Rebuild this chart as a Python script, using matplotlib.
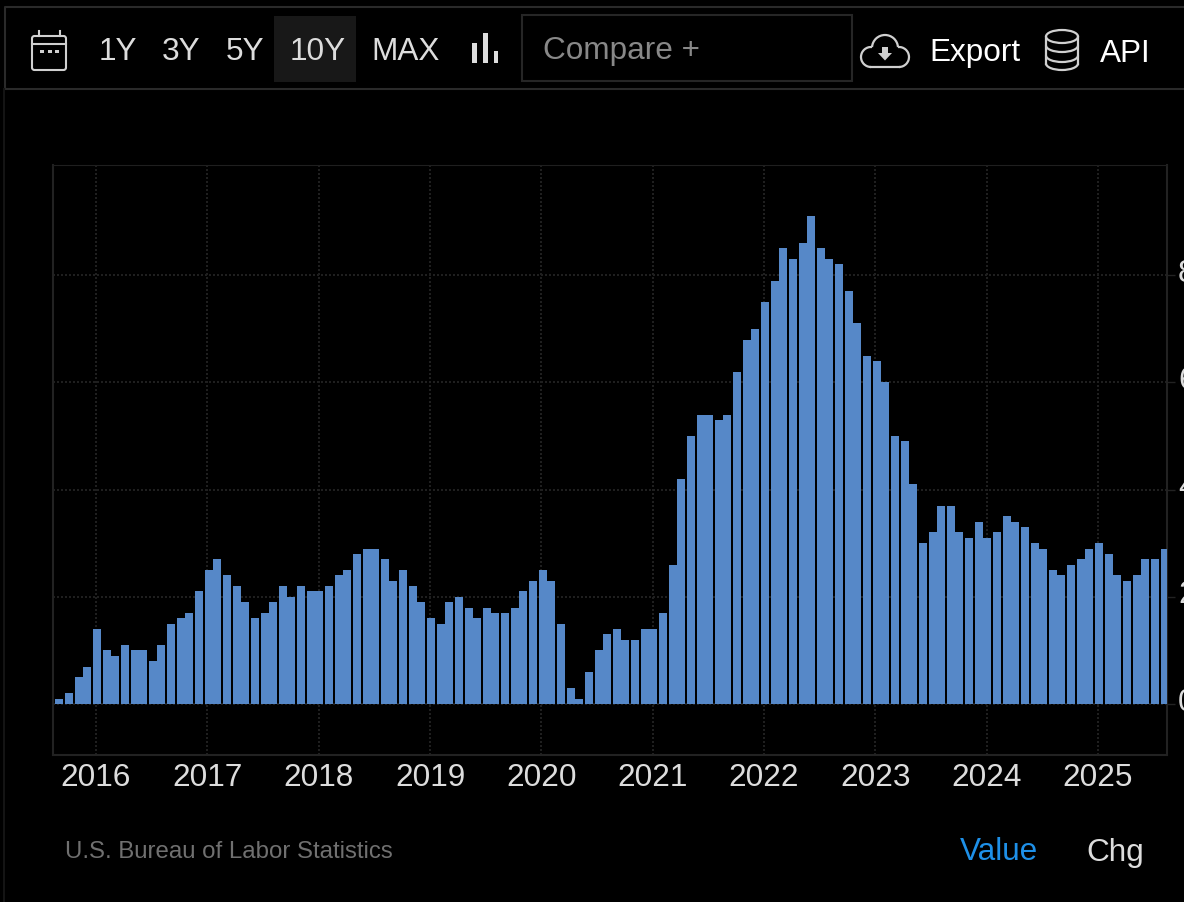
import matplotlib
matplotlib.use('Agg')
import matplotlib.pyplot as plt
from matplotlib.patches import Rectangle, FancyBboxPatch, Ellipse, Arc, Polygon
from matplotlib.transforms import ScaledTranslation

plt.rcParams['font.family'] = ['Liberation Sans', 'DejaVu Sans']

# monthly inflation rate, first bar is Sep 2015
values = [0.1, 0.2, 0.5, 0.7,
          1.4, 1.0, 0.9, 1.1, 1.0, 1.0, 0.8, 1.1, 1.5, 1.6, 1.7, 2.1,
          2.5, 2.7, 2.4, 2.2, 1.9, 1.6, 1.7, 1.9, 2.2, 2.0, 2.2, 2.1,
          2.1, 2.2, 2.4, 2.5, 2.8, 2.9, 2.9, 2.7, 2.3, 2.5, 2.2, 1.9,
          1.6, 1.5, 1.9, 2.0, 1.8, 1.6, 1.8, 1.7, 1.7, 1.8, 2.1, 2.3,
          2.5, 2.3, 1.5, 0.3, 0.1, 0.6, 1.0, 1.3, 1.4, 1.2, 1.2, 1.4,
          1.4, 1.7, 2.6, 4.2, 5.0, 5.4, 5.4, 5.3, 5.4, 6.2, 6.8, 7.0,
          7.5, 7.9, 8.5, 8.3, 8.6, 9.1, 8.5, 8.3, 8.2, 7.7, 7.1, 6.5,
          6.4, 6.0, 5.0, 4.9, 4.1, 3.0, 3.2, 3.7, 3.7, 3.2, 3.1, 3.4,
          3.1, 3.2, 3.5, 3.4, 3.3, 3.0, 2.9, 2.5, 2.4, 2.6, 2.7, 2.9,
          3.0, 2.8, 2.4, 2.3, 2.4, 2.7, 2.7, 2.9]
years = ['2016', '2017', '2018', '2019', '2020', '2021', '2022', '2023', '2024', '2025']
year_pos = [4, 16, 28, 40, 52, 64, 76, 88, 100, 112]
y_ticks = [0, 2, 4, 6, 8]

W, H = 1184, 902
LINE = '#222222'
GRID = '#1f1f1f'
BLUE = '#5688c8'
ICON = '#d0d0d0'

fig = plt.figure(figsize=(W / 100, H / 100), dpi=100, facecolor='black')

# chart area
ax = fig.add_axes([53 / W, 1 - 755 / H, (1167 - 53) / W, (755 - 165) / H], facecolor='black')
bars = ax.bar(range(len(values)), values, width=0.862, color=BLUE, linewidth=0, zorder=3)
ax.set_xlim(-0.636, 119.43)
ax.set_ylim(-0.951, 10.056)
ax.set_xticks(year_pos)
ax.set_xticklabels(years)
ax.set_yticks(y_ticks)
ax.set_yticklabels([str(v) for v in y_ticks])
ax.yaxis.tick_right()
ax.grid(True, color=GRID, linestyle=(0, (1, 1)), linewidth=1.44, zorder=0)
ax.tick_params(axis='x', length=0, pad=6, labelsize=22.7, labelcolor='#dddddd')
ax.tick_params(axis='y', length=5.8, width=1, color=LINE, pad=2.2, labelsize=22.7, labelcolor='#dddddd')
for side in ['left', 'bottom', 'right']:
    ax.spines[side].set_color(LINE)
    ax.spines[side].set_linewidth(1.5)
ax.spines['top'].set_color(GRID)
ax.spines['top'].set_linestyle((0, (1, 1)))

# value labels sit a little above their gridlines
lift = ScaledTranslation(0, 5 / 100, fig.dpi_scale_trans)
for t in ax.get_yticklabels():
    t.set_transform(t.get_transform() + lift)

# bars sit on a two pixel raster, so neighbours touch in some months
to_px = ax.transData
to_data = ax.transData.inverted()
for b in bars:
    left = to_px.transform((b.get_x(), 0))[0] + 1
    left = 2 * round((left - 1) / 2) + 1
    b.set_x(to_data.transform((left, 0))[0])
    b.set_width(to_data.transform((left + 8, 0))[0] - b.get_x())

# toolbar and footer, in pixel coordinates
ui = fig.add_axes([0, 0, 1, 1], facecolor='none', zorder=5)
ui.set_xlim(0, W)
ui.set_ylim(H, 0)
ui.axis('off')

ui.plot([W, 5, 5, W], [6.5, 6.5, 88.5, 88.5], color='#2a2a2a', lw=1.5)
ui.plot([4, 4], [89, H], color='#141414', lw=1.5)
ui.add_patch(Rectangle((274, 16), 82, 66, color='#181818', lw=0))
ui.add_patch(Rectangle((521.5, 14.5), 330, 66.5, fill=False, ec='#262626', lw=1.5))

def label(x, y, s, color='#dddddd', size=22.7, ha='center'):
    ui.text(x, y, s, color=color, fontsize=size, ha=ha, va='center_baseline')

for x, s in [(118, '1Y'), (181.5, '3Y'), (245, '5Y'), (318, '10Y'), (406, 'MAX')]:
    label(x, 49, s)
label(543, 48, 'Compare +', color='#888888', ha='left')
label(929, 50, 'Export', color='white', ha='left')
label(1100, 50, 'API', color='white', ha='left')
label(65, 849, 'U.S. Bureau of Labor Statistics', color='#707070', size=17.3, ha='left')
label(999, 849, 'Value', color='#1e90e8')
label(1115, 849, 'Chg', color='#dddddd')

# calendar icon
ui.add_patch(FancyBboxPatch((32, 36), 34, 34, boxstyle='round,pad=0,rounding_size=2.5',
                            fill=False, ec=ICON, lw=1.5))
ui.plot([32, 66], [44, 44], color=ICON, lw=1.5)
ui.plot([38.5, 38.5], [31, 36], color=ICON, lw=1.5)
ui.plot([59.5, 59.5], [31, 36], color=ICON, lw=1.5)
for x in [42, 49.5, 57]:
    ui.add_patch(Rectangle((x - 2, 49.5), 4, 3.5, color=ICON, lw=0))

# bar chart icon
ui.add_patch(Rectangle((472, 43), 4.5, 20, color='#dddddd', lw=0))
ui.add_patch(Rectangle((483, 33), 4.5, 30, color='#dddddd', lw=0))
ui.add_patch(Rectangle((494, 51), 4, 12, color='#dddddd', lw=0))

# cloud icon
ui.add_patch(Arc((871, 57), 20, 20, theta1=90, theta2=276, color=ICON, lw=1.6))
ui.add_patch(Arc((885, 48), 26, 26, theta1=184, theta2=356, color=ICON, lw=1.6))
ui.add_patch(Arc((899, 57), 20, 20, theta1=264, theta2=90, color=ICON, lw=1.6))
ui.plot([871, 899], [67, 67], color=ICON, lw=1.6)
ui.add_patch(Rectangle((882, 47), 6, 6, color=ICON, lw=0))
ui.add_patch(Polygon([(878, 53), (892, 53), (885, 60.5)], color=ICON, lw=0))

# database icon
ui.add_patch(Ellipse((1062, 36.5), 32, 13, fill=False, ec=ICON, lw=1.6))
ui.plot([1046, 1046], [36.5, 63.5], color=ICON, lw=1.6)
ui.plot([1078, 1078], [36.5, 63.5], color=ICON, lw=1.6)
for y in [45.5, 55.5, 63.5]:
    ui.add_patch(Arc((1062, y), 32, 13, theta1=0, theta2=180, color=ICON, lw=1.6))

fig.savefig('out.png', dpi=100, facecolor='black')
